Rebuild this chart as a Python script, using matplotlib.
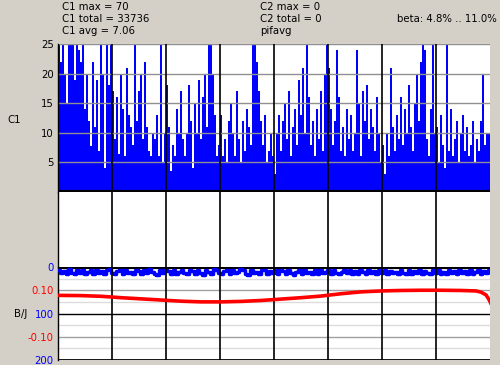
import numpy as np
import matplotlib
matplotlib.use("Agg")
import matplotlib.pyplot as plt

# C1 counts per sample bin (clipped at 25 on screen)
c1_counts = [
    25, 22, 30, 20, 15, 28, 25, 70, 19, 25, 24, 22, 25, 14, 20, 12, 7.7, 22, 11, 19, 7, 25, 20, 4, 25, 18, 25,
    17, 9, 16, 6.5, 20, 14, 6, 21, 13, 11, 8, 25, 12, 17, 20, 9, 22, 11, 7, 6, 10, 9, 13, 6, 25, 5, 10,
    18, 11, 3.5, 8, 6, 14, 10, 17, 9, 6, 10, 18, 12, 4, 15, 10, 19, 9, 16, 20, 11, 25, 30, 20, 13, 6, 8,
    13, 6, 9, 5, 12, 15, 10, 6, 17, 9, 5, 12, 7, 14, 11, 8, 25, 40, 22, 17, 12, 8, 13, 5, 7, 10, 6,
    3, 10, 13, 7, 12, 15, 9, 17, 6, 11, 14, 8, 19, 13, 21, 10, 25, 16, 8, 12, 6, 14, 9, 17, 7, 20, 25,
    21, 14, 8, 12, 24, 16, 7, 11, 6, 14, 9, 13, 7, 10, 24, 15, 6, 17, 12, 18, 9, 14, 11, 7, 16, 10, 5,
    8, 3, 10, 6, 21, 11, 7, 13, 9, 16, 8, 14, 10, 18, 11, 7, 15, 20, 12, 22, 25, 24, 9, 6, 14, 25, 10,
    11, 5, 13, 8, 4, 25, 7, 14, 6, 9, 12, 5, 10, 13, 7, 11, 6, 8, 12, 5, 9, 7, 12, 20, 8, 10, 10,
]
c1_ticks = [5, 10, 15, 20, 25]

# B (blue, 0..200 inverted) and J (red, -0.2..0.2)
b_values = [6, 13, 8, 15, 5, 12, 16, 7, 13, 6, 15, 10, 7, 16, 6, 13, 9, 15, 7, 5, 13, 16, 9, 6, 15, 7, 13,
            10, 16, 6, 9, 15, 7, 13, 5, 10, 14, 17, 7, 13, 6, 9, 16, 7, 14, 10, 6, 13, 16, 7, 9, 15, 6, 13,
            17, 7, 10, 15, 5, 7, 13, 16, 9, 6, 15, 7, 13, 10, 5, 7, 15, 17, 6, 13, 10, 16, 7, 6, 15, 9, 13,
            7, 16, 6, 9, 15, 7, 13, 17, 10, 6, 15, 7, 13, 10, 16, 6, 15, 7, 13, 10, 6, 15, 7, 13, 16, 10, 7,
            12, 6, 14, 8, 16, 7, 11, 15, 6, 13, 9, 16, 7, 12, 6, 15, 8, 13, 10, 16, 6, 12, 14, 7, 15, 9, 13,
            6, 16, 8, 12, 15, 7, 13, 6, 14, 10, 16, 7, 12, 9, 15, 6, 13, 8, 16, 7, 14, 11, 6, 15, 9, 13, 7]
j_pos = [0, 11, 21, 31, 41, 51, 61, 71, 81, 91, 101, 111, 121, 131, 141, 151, 161, 171, 181, 191,
         201, 208.5, 211, 213.5, 215, 216]
j_values = [0.078, 0.077, 0.074, 0.068, 0.063, 0.058, 0.053, 0.050, 0.050, 0.052, 0.056, 0.062, 0.068,
            0.075, 0.085, 0.093, 0.097, 0.099, 0.100, 0.100, 0.099, 0.097, 0.092, 0.080, 0.060, 0.042]
b_ticks = [0, 100, 200]
j_ticks = [0.10, -0.10]
j_labels = ["0.10", "-0.10"]

header_left = ["C1 max = 70", "C1 total = 33736", "C1 avg = 7.06"]
header_mid = ["C2 max = 0", "C2 total = 0", "pifavg"]
beta_text = "beta: 4.8% .. 11.0%"

BG = "#d4d0c8"
W, H = 500, 365
n = len(c1_counts)
div = 27


def box(x0, y0, x1, y1):
    return [x0 / W, 1 - y1 / H, (x1 - x0) / W, (y1 - y0) / H]


fig = plt.figure(figsize=(5, 3.65), dpi=100, facecolor=BG)
plt.rcParams["font.family"] = "DejaVu Sans"
fs = 7.3

# --- top panel: C1 bars
ax1 = fig.add_axes(box(58, 44, 490, 192))
ax1.bar(np.arange(n), c1_counts, width=1.0, color="#0000ff", linewidth=0, zorder=1)
for v in c1_ticks:
    ax1.axhline(v, color="#909090", lw=1, zorder=2)
ax1.axhline(0, color="black", lw=3, zorder=3)
ax1.set_ylim(0, 25)
ax1.set_yticks(c1_ticks)

# --- middle panel: empty
ax2 = fig.add_axes(box(58, 192, 490, 267))
ax2.set_ylim(0, 1)
ax2.set_yticks([])

# --- bottom panel: B / J
ax3 = fig.add_axes(box(58, 267, 490, 360))
for v in [25, 75, 125, 175]:
    ax3.axhline(v, color="#dcdcdc", lw=1, zorder=1)
for v in [50, 150]:
    ax3.axhline(v, color="#a0a0a0", lw=1, zorder=1)
ax3.axhline(100, color="black", lw=1, zorder=1)
ax3.axhline(0, color="black", lw=3, zorder=3)
ax3.axhline(200, color="black", lw=2, zorder=3)
ax3.plot(np.linspace(0, n - 1, len(b_values)), b_values, color="#0000ff", lw=2.5,
         drawstyle="steps-mid", zorder=4)
ax3.set_ylim(200, 0)
ax3.set_yticks(b_ticks)

ax4 = ax3.twinx()
ax4.plot(j_pos, j_values, color="#ff0000", lw=2.6, zorder=5)
ax4.set_ylim(-0.2, 0.2)
ax4.yaxis.tick_left()
ax4.set_yticks(j_ticks)
ax4.set_yticklabels(j_labels)
ax4.tick_params(axis="y", colors="#ff0000", length=0, labelsize=fs, pad=3)
for s in ax4.spines.values():
    s.set_visible(False)

for ax in (ax1, ax2, ax3):
    ax.set_xlim(-0.5, n - 0.5)
    ax.set_xticks([])
    ax.set_facecolor("white")
    for k in range(div, n, div):
        ax.axvline(k - 0.5, color="black", lw=1.2, zorder=6)
    for s in ("top", "right", "bottom"):
        ax.spines[s].set_visible(False)
    ax.spines["left"].set_color("black")
    ax.spines["left"].set_linewidth(1)
    ax.tick_params(axis="y", length=0, labelsize=fs, pad=3)

ax3.tick_params(axis="y", colors="#0000ff")

# --- axis titles and header text
fig.text(14 / W, 1 - 120 / H, "C1", fontsize=fs, va="center", ha="center")
fig.text(21 / W, 1 - 314 / H, "B/J", fontsize=fs, va="center", ha="center")
for i, t in enumerate(header_left):
    fig.text(62 / W, 1 - (7 + 12 * i) / H, t, fontsize=fs, va="center", ha="left")
for i, t in enumerate(header_mid):
    fig.text(260 / W, 1 - (7 + 12 * i) / H, t, fontsize=fs, va="center", ha="left")
fig.text(497 / W, 1 - 19 / H, beta_text, fontsize=fs, va="center", ha="right")

fig.savefig("out.png", dpi=100, facecolor=BG)
